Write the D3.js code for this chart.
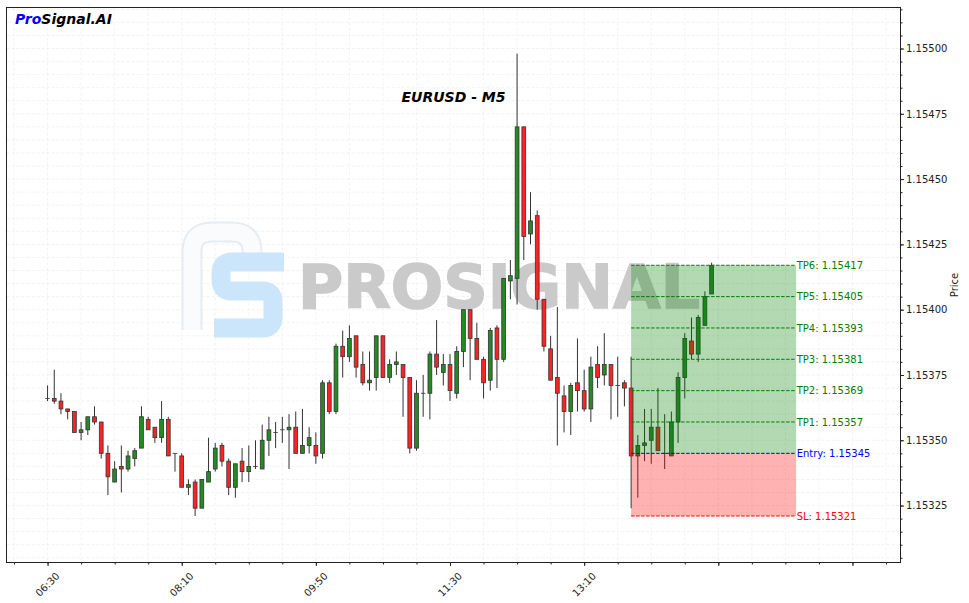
<!DOCTYPE html>
<html><head><meta charset="utf-8">
<script src="https://cdn.jsdelivr.net/npm/d3@7"></script>
<style>body{margin:0;background:#fff}svg{display:block}text{font-family:"DejaVu Sans",sans-serif}</style>
</head><body><svg id="c" width="969" height="603"></svg>
<script>
// ---------- DATA ----------
const times = ["06:30","06:35","06:40","06:45","06:50","06:55",
"07:00","07:05","07:10","07:15","07:20","07:25","07:30","07:35","07:40","07:45","07:50","07:55",
"08:00","08:05","08:10","08:15","08:20","08:25","08:30","08:35","08:40","08:45","08:50","08:55",
"09:00","09:05","09:10","09:15","09:20","09:25","09:30","09:35","09:40","09:45","09:50","09:55",
"10:00","10:05","10:10","10:15","10:20","10:25","10:30","10:35","10:40","10:45","10:50","10:55",
"11:00","11:05","11:10","11:15","11:20","11:25","11:30","11:35","11:40","11:45","11:50","11:55",
"12:00","12:05","12:10","12:15","12:20","12:25","12:30","12:35","12:40","12:45","12:50","12:55",
"13:00","13:05","13:10","13:15","13:20","13:25","13:30","13:35","13:40","13:45","13:50","13:55",
"14:00","14:05","14:10","14:15","14:20","14:25","14:30","14:35","14:40","14:45"];
const open  = [1.15366,1.15366,1.15365,1.15362,1.15361,1.15353,1.15354,1.15359,1.15357,1.15345,
1.15334,1.15340,1.15339,1.15343,1.15347,1.15358,1.15355,1.15351,1.15358,1.15345,
1.15344,1.15332,1.15334,1.15324,1.15334,1.15339,1.15348,1.15342,1.15332,1.15342,
1.15338,1.15340,1.15339,1.15350,1.15353,1.15354,1.15354,1.15355,1.15345,1.15348,
1.15348,1.15345,1.15372,1.15361,1.15386,1.15382,1.15390,1.15379,1.15372,1.15374,
1.15390,1.15374,1.15379,1.15379,1.15374,1.15347,1.15368,1.15368,1.15383,1.15376,
1.15379,1.15368,1.15384,1.15400,1.15389,1.15381,1.15373,1.15393,1.15381,1.15411,
1.15412,1.15470,1.15429,1.15436,1.15404,1.15385,1.15374,1.15367,1.15361,1.15372,
1.15369,1.15362,1.15379,1.15375,1.15379,1.15371,1.15372,1.15370,1.15344,1.15348,
1.15350,1.15355,1.15345,1.15344,1.15357,1.15374,1.15388,1.15383,1.15394,1.15406];
const high  = [1.15371,1.15377,1.15368,1.15362,1.15361,1.15357,1.15359,1.15363,1.15357,1.15348,
1.15342,1.15348,1.15346,1.15347,1.15363,1.15359,1.15355,1.15365,1.15359,1.15345,
1.15345,1.15335,1.15335,1.15335,1.15351,1.15349,1.15349,1.15343,1.15341,1.15347,
1.15348,1.15350,1.15356,1.15359,1.15357,1.15359,1.15360,1.15361,1.15362,1.15355,
1.15353,1.15373,1.15373,1.15387,1.15392,1.15394,1.15390,1.15384,1.15384,1.15390,
1.15390,1.15381,1.15384,1.15379,1.15374,1.15373,1.15375,1.15384,1.15396,1.15383,
1.15383,1.15386,1.15400,1.15400,1.15395,1.15382,1.15393,1.15394,1.15412,1.15419,
1.15498,1.15470,1.15445,1.15438,1.15404,1.15390,1.15401,1.15371,1.15372,1.15389,
1.15377,1.15382,1.15386,1.15391,1.15379,1.15382,1.15373,1.15382,1.15352,1.15362,
1.15362,1.15370,1.15360,1.15361,1.15376,1.15391,1.15397,1.15398,1.15407,1.15418];
const low   = [1.15365,1.15364,1.15360,1.15358,1.15353,1.15350,1.15352,1.15356,1.15343,1.15329,
1.15334,1.15330,1.15338,1.15340,1.15347,1.15354,1.15349,1.15349,1.15344,1.15338,
1.15332,1.15329,1.15321,1.15324,1.15334,1.15338,1.15340,1.15329,1.15328,1.15334,
1.15334,1.15339,1.15339,1.15344,1.15347,1.15349,1.15339,1.15345,1.15345,1.15345,
1.15341,1.15343,1.15360,1.15360,1.15374,1.15380,1.15374,1.15371,1.15369,1.15369,
1.15374,1.15372,1.15375,1.15359,1.15345,1.15346,1.15359,1.15358,1.15375,1.15371,
1.15365,1.15366,1.15378,1.15373,1.15381,1.15366,1.15369,1.15370,1.15380,1.15404,
1.15402,1.15419,1.15425,1.15400,1.15384,1.15373,1.15348,1.15353,1.15352,1.15361,
1.15361,1.15357,1.15370,1.15371,1.15358,1.15359,1.15363,1.15324,1.15328,1.15342,
1.15341,1.15346,1.15339,1.15344,1.15349,1.15366,1.15381,1.15380,1.15394,1.15406];
const close = [1.15366,1.15365,1.15362,1.15361,1.15353,1.15354,1.15359,1.15357,1.15345,1.15336,
1.15339,1.15339,1.15344,1.15346,1.15359,1.15354,1.15351,1.15358,1.15344,1.15345,
1.15332,1.15333,1.15324,1.15335,1.15338,1.15347,1.15342,1.15332,1.15341,1.15338,
1.15340,1.15340,1.15350,1.15354,1.15353,1.15354,1.15355,1.15345,1.15348,1.15351,
1.15344,1.15372,1.15361,1.15386,1.15382,1.15389,1.15378,1.15372,1.15373,1.15390,
1.15374,1.15379,1.15380,1.15374,1.15347,1.15368,1.15368,1.15383,1.15378,1.15379,
1.15369,1.15384,1.15400,1.15389,1.15381,1.15372,1.15392,1.15381,1.15412,1.15413,
1.15470,1.15428,1.15434,1.15404,1.15386,1.15373,1.15368,1.15361,1.15371,1.15369,
1.15362,1.15378,1.15374,1.15379,1.15371,1.15371,1.15370,1.15344,1.15348,1.15349,
1.15355,1.15346,1.15345,1.15357,1.15374,1.15389,1.15383,1.15397,1.15405,1.15417];

const tpNames  = ["TP1","TP2","TP3","TP4","TP5","TP6"];
const tpLevels = [1.15357,1.15369,1.15381,1.15393,1.15405,1.15417];
const entryPrice = 1.15345;
const slPrice = 1.15321;
const zoneStart = "13:45";
const zoneEnd = "15:48";
const xTickTimes  = ["06:30","08:10","09:50","11:30","13:10","14:50","16:30"];
const xTickLabels = ["06:30","08:10","09:50","11:30","13:10","",""];
const yTickValues = [1.15325,1.15350,1.15375,1.15400,1.15425,1.15450,1.15475,1.15500];
const xDomain = ["05:59","17:06"];
const yDomain = [1.153032,1.155157];

// ---------- RENDER ----------
const toMin = t => { const [h,m] = t.split(":").map(Number); return h*60+m; };
const svg = d3.select("#c");
const L = 6.5, R = 900.5, T = 7.5, B = 562.5;
const x = d3.scaleLinear().domain([toMin(xDomain[0]) + 0.4, toMin(xDomain[1]) - 0.2]).range([L, R]);
const y = d3.scaleLinear().domain(yDomain).range([B, T]);

svg.append("rect").attr("width",969).attr("height",603).attr("fill","#fff");
svg.append("defs").append("clipPath").attr("id","clip")
  .append("rect").attr("x",L).attr("y",T).attr("width",R-L).attr("height",B-T);

// grid
const minorX = d3.range(toMin("06:05"), toMin(xDomain[1]), 25);
const minorY = d3.range(1.15305, 1.15516, 0.00005);
const grid = svg.append("g").attr("clip-path","url(#clip)");
grid.selectAll(".gx").data(minorX).join("line")
  .attr("x1",d=>x(d)).attr("x2",d=>x(d)).attr("y1",T).attr("y2",B)
  .attr("stroke","#ececec").attr("stroke-width",0.7).attr("stroke-dasharray","3,2");
grid.selectAll(".gy").data(minorY).join("line")
  .attr("x1",L).attr("x2",R).attr("y1",d=>y(d)).attr("y2",d=>y(d))
  .attr("stroke","#ececec").attr("stroke-width",0.7).attr("stroke-dasharray","3,2");

// watermark
const wm = svg.append("g").attr("clip-path","url(#clip)");
wm.append("path").attr("d","M192 330 L192 252 Q192 232 212 232 L232 232 Q252 232 252 252 L252 262")
  .attr("fill","none").attr("stroke","#e6ecf2").attr("stroke-width",21).attr("stroke-linejoin","round");
wm.append("path").attr("d","M192 330 L192 252 Q192 232 212 232 L232 232 Q252 232 252 252 L252 262")
  .attr("fill","none").attr("stroke","#f9fbfd").attr("stroke-width",17).attr("stroke-linejoin","round");
wm.append("path").attr("d","M284 262 L232 262 Q221 262 221 273 L221 280 Q221 291 232 291 L262 291 Q273 291 273 302 L273 317 Q273 328 262 328 L214 328")
  .attr("fill","none").attr("stroke","#cbe6fb").attr("stroke-width",19).attr("stroke-linejoin","round");
wm.append("text").attr("x",298).attr("y",308).attr("textLength",402).attr("lengthAdjust","spacingAndGlyphs")
  .style("font-size","61px").style("font-weight","bold").attr("fill","#cacaca")
  .attr("stroke","#cacaca").attr("stroke-width",1.5).text("PROSIGNAL");

// candles
const data = times.map((t,i)=>({t:toMin(t), o:open[i], h:high[i], l:low[i], c:close[i]}));
const bw = 3.8;
const cg = svg.append("g").attr("clip-path","url(#clip)");
cg.selectAll(".w").data(data).join("line")
  .attr("x1",d=>x(d.t)).attr("x2",d=>x(d.t)).attr("y1",d=>y(d.h)).attr("y2",d=>y(d.l))
  .attr("stroke","#333").attr("stroke-width",1);
cg.selectAll(".b").data(data).join("rect")
  .attr("x",d=>x(d.t)-bw/2).attr("width",bw)
  .attr("y",d=>y(Math.max(d.o,d.c)))
  .attr("height",d=>Math.max(0.01, Math.abs(y(d.o)-y(d.c))))
  .attr("fill",d=>d.c>=d.o ? "#228b22" : "#ff2222")
  .attr("stroke","#333").attr("stroke-width",0.8);

// trade zone
const zx0 = x(toMin(zoneStart)), zx1 = x(toMin(zoneEnd));
const zg = svg.append("g");
zg.append("rect").attr("x",zx0).attr("width",zx1-zx0)
  .attr("y",y(tpLevels[tpLevels.length-1])).attr("height",y(entryPrice)-y(tpLevels[tpLevels.length-1]))
  .attr("fill","green").attr("opacity",0.3);
zg.append("rect").attr("x",zx0).attr("width",zx1-zx0)
  .attr("y",y(entryPrice)).attr("height",y(slPrice)-y(entryPrice))
  .attr("fill","red").attr("opacity",0.3);
const levels = tpLevels.map((v,i)=>({v, label:`${tpNames[i]}: ${v.toFixed(5)}`, col:"#008000"}))
  .concat([{v:entryPrice,label:`Entry: ${entryPrice.toFixed(5)}`,col:"#0000ff"},
           {v:slPrice,label:`SL: ${slPrice.toFixed(5)}`,col:"#ff0000"}]);
zg.selectAll(".lv").data(levels).join("line")
  .attr("x1",zx0).attr("x2",zx1).attr("y1",d=>y(d.v)).attr("y2",d=>y(d.v))
  .attr("stroke",d=>d.col).attr("stroke-width",1).attr("stroke-dasharray","3.5,1.5");
zg.selectAll(".lt").data(levels).join("text")
  .attr("x",zx1+0.5).attr("y",d=>y(d.v)).attr("dy","0.36em")
  .attr("fill",d=>d.col).style("font-size","10px").text(d=>d.label);

// frame
svg.append("rect").attr("x",L).attr("y",T).attr("width",R-L).attr("height",B-T)
  .attr("fill","none").attr("stroke","#222").attr("stroke-width",1);

// x axis
const xMaj = xTickTimes.map(toMin);
const xa = svg.append("g").attr("transform",`translate(0,${B})`);
xa.call(d3.axisBottom(x).tickValues(minorX).tickSize(2).tickFormat(""));
xa.append("g").call(d3.axisBottom(x).tickValues(xMaj).tickSize(3.5).tickFormat(""));
xa.selectAll(".domain").remove();
xa.selectAll("line").attr("stroke","#222");
xa.selectAll(".xl").data(xTickLabels.map((l,i)=>({l, v:xMaj[i]}))).join("text")
  .attr("transform",d=>`translate(${x(d.v)},22) rotate(-45)`)
  .attr("text-anchor","middle").attr("dy","0.35em")
  .style("font-size","10px").attr("fill","#222").text(d=>d.l);

// y axis
const ya = svg.append("g").attr("transform",`translate(${R},0)`);
ya.call(d3.axisRight(y).tickValues(minorY).tickSize(2).tickFormat(""));
ya.append("g").call(d3.axisRight(y).tickValues(yTickValues).tickSize(3.5).tickPadding(2)
  .tickFormat(d=>d.toFixed(5)));
ya.selectAll(".domain").remove();
ya.selectAll("line").attr("stroke","#222");
ya.selectAll("text").style("font-size","10px").attr("fill","#222").attr("font-family","DejaVu Sans");

svg.append("text").attr("transform",`translate(958,${(T+B)/2}) rotate(-90)`)
  .attr("text-anchor","middle").style("font-size","10px").attr("fill","#222").text("Price");

// title & logo
svg.append("text").attr("x",(L+R)/2).attr("y",102).attr("text-anchor","middle")
  .style("font-size","14px").style("font-weight","bold").style("font-style","italic").text("EURUSD - M5");
const logo = svg.append("text").attr("x",15).attr("y",24)
  .style("font-size","14px").style("font-weight","bold").style("font-style","italic");
logo.append("tspan").attr("fill","#0000ff").text("Pro");
logo.append("tspan").attr("fill","#000").text("Signal.AI");
</script></body></html>
